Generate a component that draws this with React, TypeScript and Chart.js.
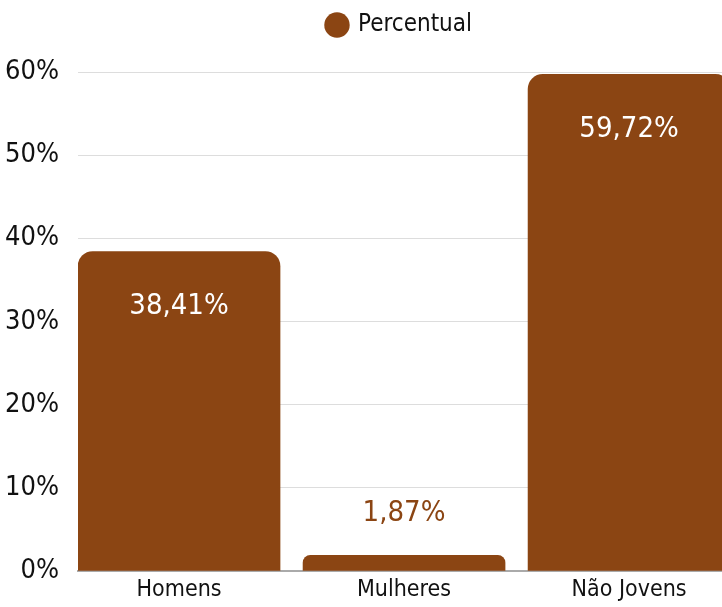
import React, { useEffect, useRef } from "react";
import { Chart, registerables } from "chart.js";

Chart.register(...registerables);

const categories = ["Homens", "Mulheres", "Não Jovens"];
const percentual = [38.41, 1.87, 59.72];
const valueLabels = ["38,41%", "1,87%", "59,72%"];
const yTicks = [0, 10, 20, 30, 40, 50, 60];

const BROWN = "#8B4513";
const FONT = "'DejaVu Sans Condensed', 'Liberation Sans Narrow', sans-serif";
const LEGEND_HEIGHT = 72;

const dataLabelPlugin = {
  id: "dataLabels",
  beforeUpdate(chart: any) {
    const lg = chart.legend;
    if (lg && !lg.__patched) {
      const orig = lg.fit;
      lg.fit = function () {
        orig.call(this);
        this.height = LEGEND_HEIGHT;
      };
      lg.__patched = true;
    }
  },
  afterDatasetsDraw(chart: any) {
    const ctx = chart.ctx;
    const meta = chart.getDatasetMeta(0);
    ctx.save();
    ctx.font = `29px ${FONT}`;
    ctx.textAlign = "center";
    ctx.textBaseline = "middle";
    meta.data.forEach((bar: any, i: number) => {
      const { x, y } = bar.getProps(["x", "y"], true);
      const v = percentual[i];
      if (v > 10) {
        ctx.fillStyle = "#ffffff";
        ctx.fillText(valueLabels[i], x, y + 55);
      } else {
        ctx.fillStyle = BROWN;
        ctx.fillText(valueLabels[i], x, y - 42);
      }
    });
    ctx.restore();
  },
};

export default function App() {
  const ref = useRef<HTMLCanvasElement>(null);
  useEffect(() => {
    if (!ref.current) return;
    const chart = new Chart(ref.current, {
      type: "bar",
      data: {
        datasets: [
          {
            label: "Percentual",
            data: categories.map((c, i) => ({ x: i, y: percentual[i] })),
            backgroundColor: BROWN,
            borderRadius: 15,
            barThickness: 202,
          },
        ],
      },
      options: {
        responsive: false,
        animation: false,
        layout: { padding: 0 },
        plugins: {
          legend: {
            display: true,
            position: "top",
            fullSize: false,
            labels: {
              usePointStyle: true,
              pointStyle: "circle",
              boxWidth: 18,
              boxHeight: 18,
              padding: 13,
              color: "#111",
              font: { family: FONT, size: 24 },
            },
          },
          tooltip: { enabled: false },
        },
        scales: {
          x: {
            type: "linear",
            offset: false,
            min: -0.449,
            max: 2.413,
            grid: { display: false, drawTicks: false, offset: false },
            border: { display: true, color: "#aaaaaa", width: 2 },
            afterBuildTicks: (scale: any) => {
              scale.ticks = categories.map((_, i) => ({ value: i }));
            },
            afterFit: (scale: any) => {
              scale.height = 36;
            },
            ticks: {
              autoSkip: false,
              maxRotation: 0,
              padding: 5,
              color: "#111",
              font: { family: FONT, size: 23 },
              callback: (v: any) => categories[v as number] ?? "",
            },
          },
          y: {
            min: 0,
            max: 60,
            afterBuildTicks: (scale: any) => {
              scale.ticks = yTicks.map((v) => ({ value: v }));
            },
            afterFit: (scale: any) => {
              scale.width = 78;
            },
            grid: { color: "#dddddd", drawTicks: false },
            border: { display: false },
            ticks: {
              padding: 19,
              color: "#111",
              font: { family: FONT, size: 27 },
              callback: (v: any) => `${v}%`,
            },
          },
        },
      },
      plugins: [dataLabelPlugin],
    });
    return () => chart.destroy();
  }, []);
  return (
    <div style={{ position: "fixed", left: 0, top: 0, width: 722, height: 607, background: "#fff" }}>
      <canvas ref={ref} width={722} height={607} />
    </div>
  );
}
